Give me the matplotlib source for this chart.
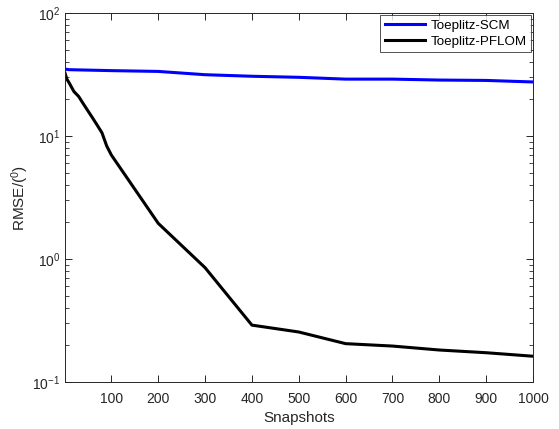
import matplotlib
matplotlib.use("Agg")
import matplotlib.pyplot as plt
from matplotlib.ticker import LogLocator, NullFormatter, FixedLocator

plt.rcParams['font.family'] = ['Liberation Sans', 'DejaVu Sans']
plt.rcParams['mathtext.fontset'] = 'custom'
plt.rcParams['mathtext.rm'] = 'Liberation Sans'
plt.rcParams['mathtext.it'] = 'Liberation Sans'

# Snapshot counts and RMSE values
snap_scm = [1, 10, 100, 200, 300, 400, 500, 600, 700, 800, 900, 1000]
rmse_scm = [35.0, 34.6, 34.0, 33.5, 31.5, 30.6, 30.0, 29.0, 29.0, 28.5, 28.3, 27.5]

snap_pflom = [1, 5, 10, 20, 30, 40, 50, 60, 70, 80, 90, 100,
              200, 300, 400, 500, 600, 700, 800, 900, 1000]
rmse_pflom = [32.5, 29.0, 27.0, 23.0, 21.0, 18.3, 16.0, 14.0, 12.2, 10.6, 8.3, 7.0,
              1.95, 0.85, 0.29, 0.255, 0.205, 0.196, 0.182, 0.173, 0.162]

labels = ['Toeplitz-SCM', 'Toeplitz-PFLOM']
xticks = [100, 200, 300, 400, 500, 600, 700, 800, 900, 1000]

axis_col = '#262626'

fig = plt.figure(figsize=(5.59, 4.29), dpi=100)
ax = fig.add_axes([65/559, 1 - 382/429, (533-65)/559, (382-13)/429])

ax.plot(snap_scm, rmse_scm, color='#0000ff', lw=2.2, label=labels[0])
ax.plot(snap_pflom, rmse_pflom, color='black', lw=2.2, label=labels[1])

ax.set_yscale('log')
ax.set_ylim(0.1, 100)
ax.set_xlim(1, 1000)
ax.xaxis.set_major_locator(FixedLocator(xticks))
ax.yaxis.set_major_locator(LogLocator(base=10, numticks=10))
ax.yaxis.set_minor_locator(LogLocator(base=10, subs=range(2, 10), numticks=20))
ax.yaxis.set_minor_formatter(NullFormatter())

ax.tick_params(which='both', direction='in', top=True, right=True,
               colors=axis_col, labelsize=10)
ax.tick_params(which='major', length=5, width=0.7)
ax.tick_params(which='minor', length=3, width=0.6)
ax.tick_params(axis='x', pad=7)
for s in ax.spines.values():
    s.set_color(axis_col)
    s.set_linewidth(0.7)

ax.set_xlabel('Snapshots', fontsize=11, color=axis_col, labelpad=4)
ax.set_ylabel('RMSE/($^0$)', fontsize=11, color=axis_col, labelpad=1)

leg = ax.legend(loc='upper right', fontsize=9.6, frameon=True, fancybox=False,
                handlelength=3.0, borderaxespad=0.15, borderpad=0.35,
                labelspacing=0.25, handletextpad=0.4)
leg.get_frame().set_edgecolor(axis_col)
leg.get_frame().set_linewidth(0.7)

fig.savefig('out.png', dpi=100, facecolor='white')
